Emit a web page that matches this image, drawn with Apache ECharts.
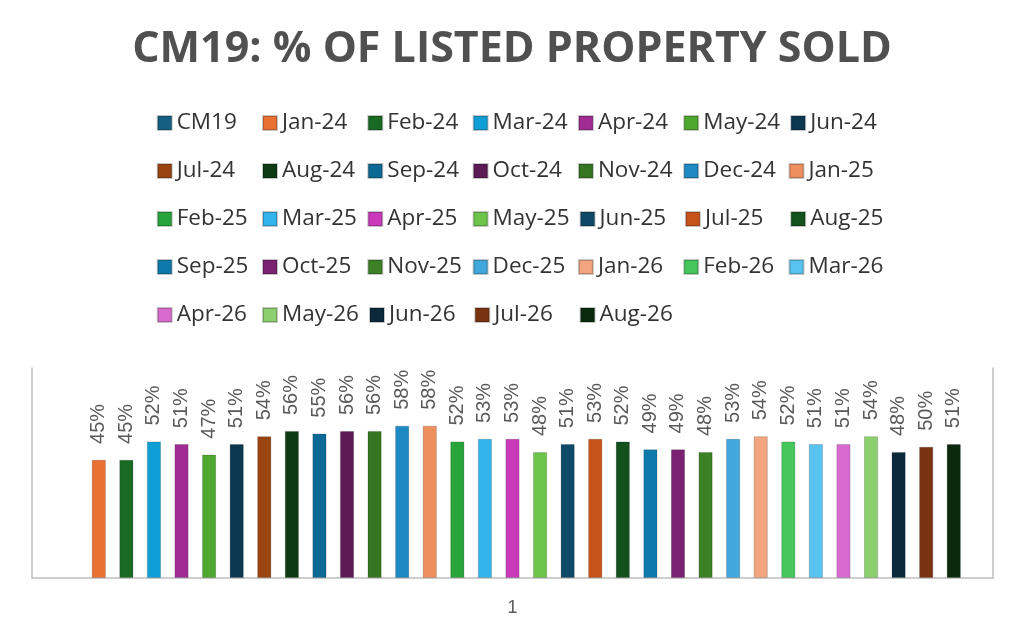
<!DOCTYPE html>
<html>
<head>
<meta charset="utf-8">
<script src="https://cdn.jsdelivr.net/npm/echarts@6/dist/echarts.min.js"></script>
<style>
html,body{margin:0;padding:0;background:#fff;}
#chart{width:1024px;height:638px;}
</style>
</head>
<body>
<div id="chart"></div>
<script>
const titleText = 'CM19: % OF LISTED PROPERTY SOLD';
const categories = ['1'];
const seriesNames = ['CM19',
  'Jan-24','Feb-24','Mar-24','Apr-24','May-24','Jun-24','Jul-24','Aug-24','Sep-24','Oct-24','Nov-24','Dec-24',
  'Jan-25','Feb-25','Mar-25','Apr-25','May-25','Jun-25','Jul-25','Aug-25','Sep-25','Oct-25','Nov-25','Dec-25',
  'Jan-26','Feb-26','Mar-26','Apr-26','May-26','Jun-26','Jul-26','Aug-26'];
const values = [null,
  45,45,52,51,47,51,54,56,55,56,56,58,
  58,52,53,53,48,51,53,52,49,49,48,53,
  54,52,51,51,54,48,50,51];
const colors = ['#156082',
  '#E97132','#196B24','#0F9ED5','#A02B93','#4EA72E','#0C3850','#994411','#0E3A14','#0B6A93','#5C1B55','#367521','#1E8AC4',
  '#EE8F5E','#27A43A','#33B5EC','#C939B9','#6CC54A','#0E4A67','#C6541A','#13511D','#0E7AAB','#7A2171','#3D8126','#41A7DC',
  '#F2A57E','#45C65A','#58C3F0','#D96BCF','#8CD06E','#0A2A3C','#7A3310','#0A2A0E'];

const chart = echarts.init(document.getElementById('chart'));
const series = seriesNames.map((name, i) => ({
  name: name,
  type: 'bar',
  data: [values[i]],
  barWidth: 14,
  barGap: '97%',
  itemStyle: { color: colors[i], borderColor: 'rgba(0,0,0,0.22)', borderWidth: 0.8 },
  label: {
    show: true,
    position: 'top',
    rotate: 90,
    align: 'left',
    verticalAlign: 'middle',
    distance: 16,
    fontFamily: 'Liberation Sans',
    fontSize: 20,
    color: '#595959',
    formatter: p => p.value + '%'
  }
}));

chart.setOption({
  animation: false,
  backgroundColor: '#ffffff',
  title: {
    text: titleText,
    left: 'center',
    top: 23,
    textStyle: { fontFamily: 'Open Sans', fontWeight: 'bold', fontSize: 43, color: '#505050' }
  },
  legend: {
    left: 156.7,
    top: 104,
    width: 760,
    padding: 0,
    itemGap: 10,
    itemWidth: 14,
    itemHeight: 14,
    icon: 'rect',
    textStyle: { fontFamily: 'Open Sans', fontSize: 22.5, color: '#333333', width: 75.3, lineHeight: 38 },
    data: seriesNames
  },
  grid: { left: 32, right: 31, top: 368, bottom: 60, containLabel: false },
  xAxis: {
    type: 'category',
    data: categories,
    axisLine: { lineStyle: { color: '#bfbfbf', width: 1.5 } },
    axisTick: { show: false },
    axisLabel: { fontFamily: 'Liberation Sans', fontSize: 18, color: '#595959', margin: 21 }
  },
  yAxis: [
    { type: 'value', min: 0, max: 80, position: 'left',
      axisLine: { show: true, lineStyle: { color: '#bfbfbf', width: 1.5 } },
      axisTick: { show: false }, axisLabel: { show: false }, splitLine: { show: false } },
    { type: 'value', min: 0, max: 80, position: 'right',
      axisLine: { show: true, lineStyle: { color: '#bfbfbf', width: 1.5 } },
      axisTick: { show: false }, axisLabel: { show: false }, splitLine: { show: false } }
  ],
  series: series
});
</script>
</body>
</html>
